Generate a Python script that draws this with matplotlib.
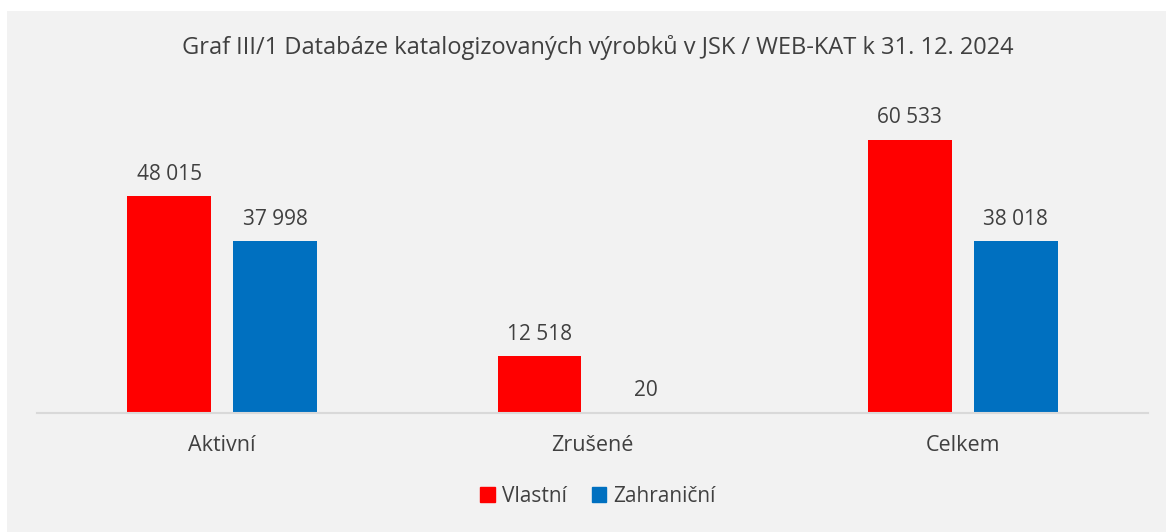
import matplotlib.pyplot as plt
import matplotlib.patches as mpatches
import numpy as np

kategorie = ["Aktivní", "Zrušené", "Celkem"]
vlastni = [48015, 12518, 60533]
zahranicni = [37998, 20, 38018]
nazev = "Graf III/1 Databáze katalogizovaných výrobků v JSK / WEB-KAT k 31. 12. 2024"

cervena = "#ff0000"
modra = "#0070c0"
text_barva = "#404040"
plt.rcParams['font.family'] = ['Open Sans', 'DejaVu Sans']

W, H = 1166, 532
fig = plt.figure(figsize=(W / 100, H / 100), dpi=100)
fig.patch.set_facecolor("white")
pozadi = mpatches.Rectangle((7 / W, 0), 1, 1 - 11 / H, transform=fig.transFigure,
                            facecolor="#f2f2f2", edgecolor="none", zorder=-10)
fig.add_artist(pozadi)

ax = fig.add_axes([37 / W, (H - 413) / H, 1111 / W, 316 / H])
ax.set_facecolor("none")
ax.set_zorder(5)

x = np.arange(len(kategorie))
sirka = 0.226
posun = 0.143
b1 = ax.bar(x - posun, vlastni, sirka, color=cervena, label="Vlastní")
b2 = ax.bar(x + posun, zahranicni, sirka, color=modra, label="Zahraniční")

def fmt(v):
    return f"{v:,}".replace(",", " ")

for bars in (b1, b2):
    for b in bars:
        ax.text(b.get_x() + b.get_width() / 2, b.get_height() + 2600, fmt(int(b.get_height())),
                ha="center", va="bottom", fontsize=15, color=text_barva)

ax.set_xlim(-0.5, 2.5)
ax.set_ylim(0, 70000)
ax.set_xticks(x)
ax.set_xticklabels(kategorie, fontsize=15.5, color=text_barva)
ax.tick_params(axis="x", length=0, pad=16)
ax.set_yticks([])
for s in ["top", "right", "left"]:
    ax.spines[s].set_visible(False)
ax.spines["bottom"].set_color("#d9d9d9")
ax.spines["bottom"].set_linewidth(1.5)

fig.text(598 / W, 1 - 48 / H, nazev, ha="center", va="center", fontsize=17, color=text_barva)

handles = [mpatches.Patch(color=cervena, label="Vlastní"), mpatches.Patch(color=modra, label="Zahraniční")]
fig.legend(handles=handles, loc="center", bbox_to_anchor=(598 / W, 1 - 496 / H), ncol=2,
           frameon=False, fontsize=15, handlelength=0.7, handleheight=0.7, handletextpad=0.35,
           columnspacing=1.2, labelcolor=text_barva)

fig.savefig("out.png", dpi=100)
